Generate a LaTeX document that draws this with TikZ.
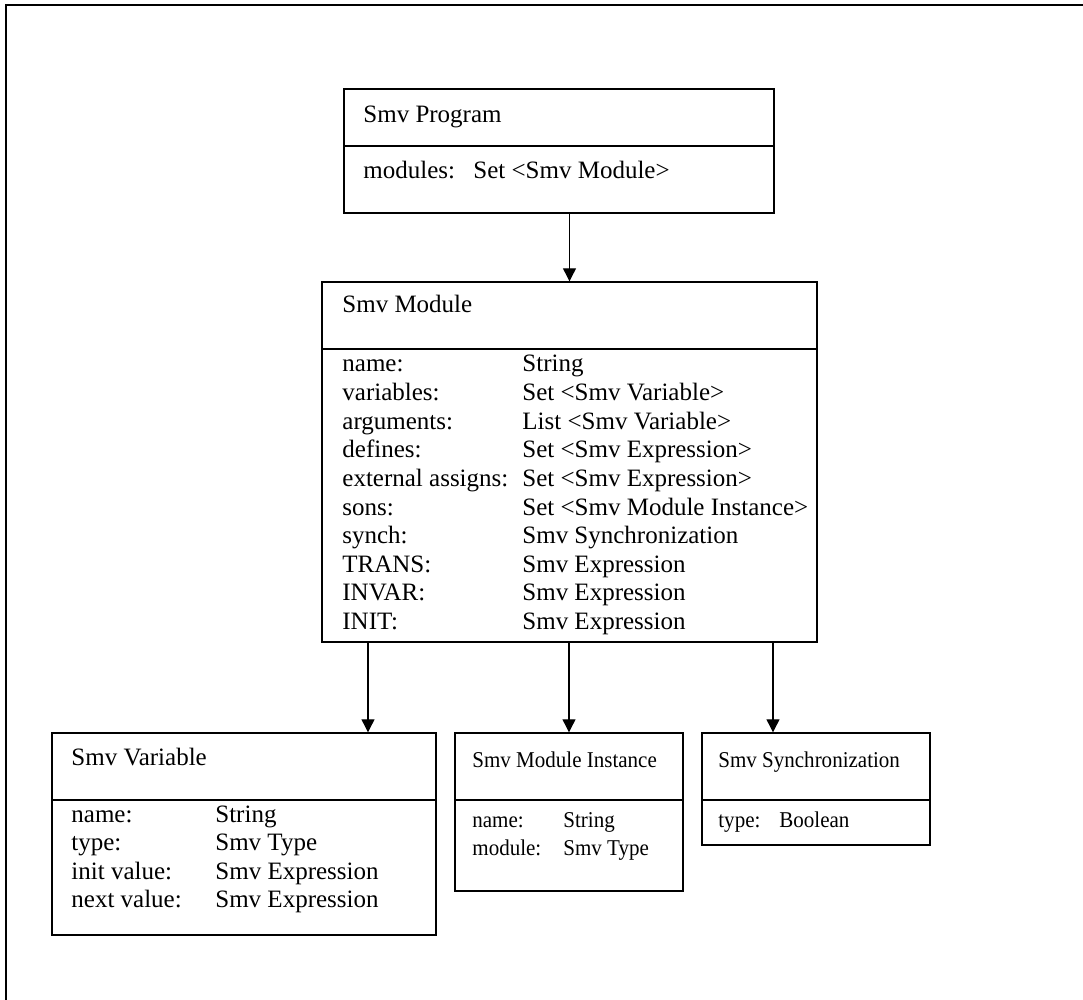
\documentclass[tikz,border=0pt]{standalone}
\usepackage{fontspec}
\setmainfont{Liberation Serif}
\newfontfamily\narrowserif[FakeStretch=0.93]{Liberation Serif}
\usetikzlibrary{arrows.meta}
\newcommand{\attr}[3]{\makebox[#1][l]{#2}#3}
\begin{document}
\begin{tikzpicture}[x=0.5pt,y=-0.5pt,
  classbox/.style={draw,line width=0.7pt,inner sep=0pt,rectangle},
  divider/.style={line width=0.7pt},
  frameline/.style={line width=0.85pt},
  txt/.style={anchor=base west,inner sep=0pt,font=\fontsize{12.5}{14.31}\selectfont},
  smalltxt/.style={txt,font=\narrowserif\fontsize{11.3}{14}\selectfont},
  link/.style={line width=0.6pt,-{Triangle[width=6.5pt,length=6.5pt]}}]
\useasboundingbox (0,0) rectangle (1083,1000);
% outer frame (open to the right and bottom)
\draw[frameline] (6,1000) -- (6,5) -- (1083,5);

% class boxes
\node[classbox,minimum width=215pt,minimum height=62pt] (prog) at (559,151) {};
\node[classbox,minimum width=247.5pt,minimum height=180pt] (mod) at (569.5,462) {};
\node[classbox,minimum width=192pt,minimum height=101pt] (var) at (244,834) {};
\node[classbox,minimum width=114pt,minimum height=79pt] (inst) at (569,812) {};
\node[classbox,minimum width=114pt,minimum height=56pt] (sync) at (816,789) {};

% compartments
\draw[divider] (prog.west |- 0,146) -- (prog.east |- 0,146);
\draw[divider] (mod.west |- 0,349) -- (mod.east |- 0,349);
\draw[divider] (var.west |- 0,800) -- (var.east |- 0,800);
\draw[divider] (inst.west |- 0,800) -- (inst.east |- 0,800);
\draw[divider] (sync.west |- 0,800) -- (sync.east |- 0,800);

% titles
\node[txt] (progT) at (363,123) {Smv Program};
\node[txt] (modT) at (342,313) {Smv Module};
\node[txt] (varT) at (71,765) {Smv Variable};
\node[smalltxt] (instT) at (472,767) {Smv Module Instance};
\node[smalltxt] (syncT) at (718,767) {Smv Synchronization};

% attributes
\node[txt] (progA) at (363,179) {\attr{55pt}{modules:}{Set <Smv Module>}};
\node[txt] (modA) at (342,372) {\begin{tabular}[t]{@{}l@{}}
\attr{90pt}{name:}{String}\\
\attr{90pt}{variables:}{Set <Smv Variable>}\\
\attr{90pt}{arguments:}{List <Smv Variable>}\\
\attr{90pt}{defines:}{Set <Smv Expression>}\\
\attr{90pt}{external assigns:}{Set <Smv Expression>}\\
\attr{90pt}{sons:}{Set <Smv Module Instance>}\\
\attr{90pt}{synch:}{Smv Synchronization}\\
\attr{90pt}{TRANS:}{Smv Expression}\\
\attr{90pt}{INVAR:}{Smv Expression}\\
\attr{90pt}{INIT:}{Smv Expression}
\end{tabular}};
\node[txt] (varA) at (71,822) {\begin{tabular}[t]{@{}l@{}}
\attr{72pt}{name:}{String}\\
\attr{72pt}{type:}{Smv Type}\\
\attr{72pt}{init value:}{Smv Expression}\\
\attr{72pt}{next value:}{Smv Expression}
\end{tabular}};
\node[smalltxt] (instA) at (472,827) {\begin{tabular}[t]{@{}l@{}}
\attr{45.5pt}{name:}{String}\\
\attr{45.5pt}{module:}{Smv Type}
\end{tabular}};
\node[smalltxt] (syncA) at (718,827) {\attr{30.5pt}{type:}{Boolean}};

% connectors
\coordinate (tapL) at (368,0);
\coordinate (tapR) at (773,0);
\draw[link] (prog.south -| mod.north) -- (mod.north);
\draw[link] (mod.south -| tapL) -- (var.north -| tapL);
\draw[link] (mod.south -| inst.north) -- (inst.north);
\draw[link] (mod.south -| tapR) -- (sync.north -| tapR);
\end{tikzpicture}
\end{document}
